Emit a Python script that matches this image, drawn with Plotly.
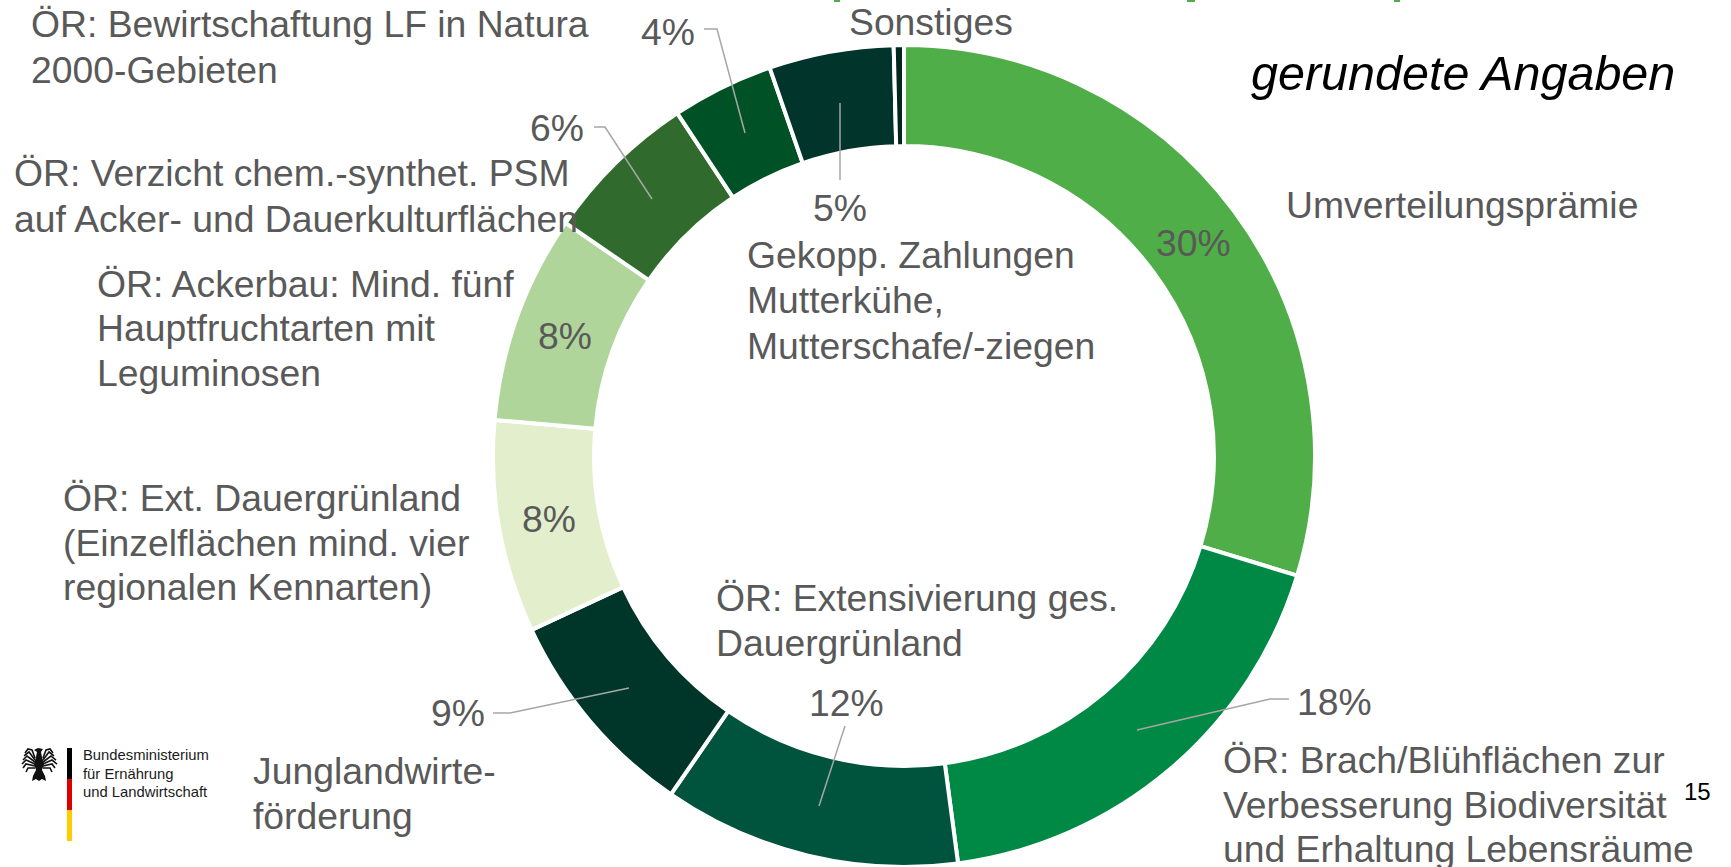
import plotly.graph_objects as go

categories = ["Umverteilungsprämie", "ÖR: Brach/Blühflächen", "ÖR: Extensivierung ges. Dauergrünland",
              "Junglandwirteförderung", "ÖR: Ext. Dauergrünland", "ÖR: Ackerbau",
              "ÖR: Verzicht PSM", "ÖR: Natura 2000", "Gekopp. Zahlungen", "Sonstiges"]
values = [29.7, 18.2, 11.7, 8.45, 8.35, 8.2, 6.1, 4.0, 4.9, 0.4]
colors = ["#4FAE47", "#008945", "#00533D", "#00362A", "#E3EFCC", "#B0D59B",
          "#306A2C", "#015127", "#01342A", "#01261E"]

W, H = 1731, 867
GREY = "#595959"
FS = 37.3
S = 1731 / 1568


def ann(x, y, text, anchor="left", size=FS, color=GREY, family="Liberation Sans", italic=False):
    t = f"<i>{text}</i>" if italic else text
    return dict(x=x / W, y=1 - y / H, xref="paper", yref="paper", text=t, showarrow=False,
                xanchor=anchor, yanchor="middle", font=dict(family=family, size=size, color=color))


text_blocks = [
    (26, [22, 63], ["ÖR: Bewirtschaftung LF in Natura", "2000-Gebieten"]),
    (11, [157, 198], ["ÖR: Verzicht chem.-synthet. PSM", "auf Acker- und Dauerkulturflächen"]),
    (86, [257, 297, 338], ["ÖR: Ackerbau: Mind. fünf", "Hauptfruchtarten mit", "Leguminosen"]),
    (55, [451, 492, 532], ["ÖR: Ext. Dauergrünland", "(Einzelflächen mind. vier", "regionalen Kennarten)"]),
    (227, [698, 739], ["Junglandwirte-", "förderung"]),
    (647, [542, 582], ["ÖR: Extensivierung ges.", "Dauergrünland"]),
    (675, [231, 272, 313], ["Gekopp. Zahlungen", "Mutterkühe,", "Mutterschafe/-ziegen"]),
    (1106, [688, 729, 769], ["ÖR: Brach/Blühflächen zur", "Verbesserung Biodiversität", "und Erhaltung Lebensräume"]),
    (1163, [186], ["Umverteilungsprämie"]),
    (767, [20], ["Sonstiges"]),
]
pct_labels = [("30%", 1081, 220), ("18%", 1209, 636), ("12%", 767, 637), ("9%", 415, 646),
              ("8%", 497, 470), ("8%", 512, 304), ("6%", 505, 116), ("4%", 605, 29), ("5%", 761, 188)]

annotations = []
for x, ys, lines in text_blocks:
    for y, line in zip(ys, lines):
        annotations.append(ann(x * S, y * S, line))
for t, x, y in pct_labels:
    annotations.append(ann(x * S, y * S, t, "center"))
annotations.append(ann(1131 * S, 66 * S, "gerundete Angaben", size=48.5, color="#000000", italic=True))
annotations.append(ann(1538 * S, 717 * S, "15", "center", size=24, color="#000000"))
for y, line in zip([755, 774, 792], ["Bundesministerium", "für Ernährung", "und Landwirtschaft"]):
    annotations.append(ann(81, y, line, size=14.8, color="#1a1a1a"))

leaders = [
    [(704, 29), (717, 29), (745, 133)],
    [(594, 127), (605, 127), (652, 199)],
    [(840, 103), (840, 180)],
    [(1289, 699), (1270, 699), (1137, 730)],
    [(845, 726), (819, 806)],
    [(493, 713), (510, 713), (629, 688)],
]


def path(points, close=False):
    s = "M" + " L".join(f"{x / W:.5f},{1 - y / H:.5f}" for x, y in points)
    return s + (" Z" if close else "")


shapes = []
for pts in leaders:
    shapes.append(dict(type="path", xref="paper", yref="paper", path=path(pts),
                       line=dict(color="#A6A6A6", width=1.5)))
for y0, y1, c in [(748, 779, "#000000"), (779, 810, "#DD0000"), (810, 841, "#FFCC00")]:
    shapes.append(dict(type="rect", xref="paper", yref="paper", x0=67 / W, x1=72 / W,
                       y0=1 - y0 / H, y1=1 - y1 / H, fillcolor=c, line_width=0))
# Eagle of the ministry logo: body, head and feathered wings
body = [(38, 748), (43, 749), (41, 752), (42, 757), (44, 764), (42, 770), (45, 776), (46, 781),
        (42, 779), (39, 781), (36, 779), (32, 781), (33, 776), (36, 770), (34, 764), (36, 757), (37, 752), (34, 750)]
shapes.append(dict(type="path", xref="paper", yref="paper", path=path(body, True),
                   fillcolor="#111111", line_width=0))
feathers = [
    [(35, 758), (32, 750), (28, 749), (25, 753)],
    [(35, 760), (29, 752), (24, 756)],
    [(35, 762), (27, 756), (23, 760)],
    [(35, 764), (26, 760), (22, 764)],
    [(35, 766), (26, 764), (23, 768)],
    [(35, 768), (28, 768), (26, 772)],
    [(43, 758), (46, 750), (50, 749), (53, 753)],
    [(43, 760), (49, 752), (54, 756)],
    [(43, 762), (51, 756), (56, 760)],
    [(43, 764), (52, 760), (57, 764)],
    [(43, 766), (52, 764), (55, 768)],
    [(43, 768), (50, 768), (52, 772)],
]
for pts in feathers:
    shapes.append(dict(type="path", xref="paper", yref="paper", path=path(pts),
                       line=dict(color="#111111", width=1.6)))
for x0, x1 in [(834, 840), (1187, 1195), (1394, 1400)]:
    shapes.append(dict(type="rect", xref="paper", yref="paper", x0=x0 / W, x1=x1 / W,
                       y0=1, y1=1 - 2 / H, fillcolor="#4FAE47", line_width=0))

fig = go.Figure(go.Pie(
    labels=categories, values=values, sort=False, direction="clockwise", rotation=0,
    hole=0.754, textinfo="none", hoverinfo="skip", showlegend=False,
    marker=dict(colors=colors, line=dict(color="#FFFFFF", width=4)),
    domain=dict(x=[493 / W, 1315 / W], y=[0, 822 / H]),
))
fig.update_layout(width=W, height=H, margin=dict(l=0, r=0, t=0, b=0), paper_bgcolor="#FFFFFF",
                  plot_bgcolor="#FFFFFF", annotations=annotations, shapes=shapes)
fig.write_html("out.html", config=dict(displayModeBar=False),
               post_script="document.body.style.margin='0';document.body.style.overflow='hidden';")
